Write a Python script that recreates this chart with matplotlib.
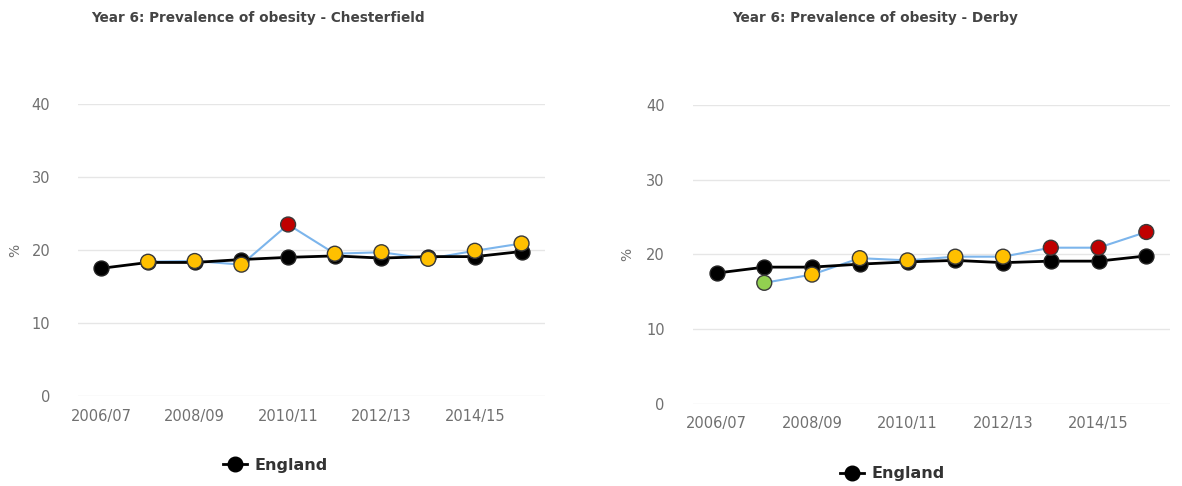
import numpy as np
import matplotlib
matplotlib.use("Agg")
import matplotlib.pyplot as plt
from matplotlib.lines import Line2D

years = ["2006/07", "2007/08", "2008/09", "2009/10", "2010/11",
         "2011/12", "2012/13", "2013/14", "2014/15", "2015/16"]
england = [17.5, 18.3, 18.3, 18.7, 19.0, 19.2, 18.9, 19.1, 19.1, 19.8]

chesterfield = [np.nan, 18.4, 18.5, 18.0, 23.5, 19.5, 19.7, 18.8, 19.9, 20.9]
chesterfield_sig = [None, "similar", "similar", "similar", "worse",
                    "similar", "similar", "similar", "similar", "similar"]

derby = [np.nan, 16.2, 17.3, 19.5, 19.2, 19.7, 19.7, 20.9, 20.9, 23.0]
derby_sig = [None, "better", "similar", "similar", "similar",
             "similar", "similar", "worse", "worse", "worse"]

sig_colors = {"similar": "#ffc000", "worse": "#c00000", "better": "#92d050"}

grey = "#707070"

fig = plt.figure(figsize=(11.82, 4.86), dpi=100)


def panel(rect, title, local, sig, title_x, ylab_x, legend_x, legend_y):
    ax = fig.add_axes(rect)
    x = np.arange(len(years))
    ax.set_xlim(-0.5, 9.5)
    ax.set_ylim(0, 40)
    ax.set_yticks([0, 10, 20, 30, 40])
    ax.grid(axis="y", color="#e6e6e6", lw=1)
    ax.set_axisbelow(True)
    for s in ax.spines.values():
        s.set_visible(False)
    ax.tick_params(length=0, colors=grey, labelsize=10.5)
    ax.tick_params(axis="y", pad=20)
    ax.tick_params(axis="x", pad=9)
    ax.set_xticks(x[::2])
    ax.set_xticklabels(years[::2])

    # local area line + significance coloured markers
    ax.plot(x, local, color="#7cb5ec", lw=1.5, zorder=2)
    ax.plot(x, england, color="black", lw=2, zorder=3)
    ax.scatter(x, england, s=115, color="black", edgecolor="#222222",
               zorder=4, clip_on=False)
    cols = [sig_colors[c] if c else "none" for c in sig]
    ax.scatter(x, local, s=115, c=cols, edgecolor="#3a3a3a", lw=1,
               zorder=5, clip_on=False)

    fig.text(title_x, 0.962, title, ha="center", va="center",
             fontsize=9.8, fontweight="bold", color="#444444")
    fig.text(ylab_x, rect[1] + rect[3] * 0.5, "%", rotation=90,
             ha="center", va="center", fontsize=10, color=grey)

    h = Line2D([0], [0], color="black", lw=2, marker="o", markersize=10.5)
    fig.legend([h], ["England"], loc="center",
               bbox_to_anchor=(legend_x, legend_y), frameon=False,
               prop={"size": 11.5, "weight": "bold"}, labelcolor="#333333",
               handlelength=1.5, handletextpad=0.5)
    return ax


panel([0.066, 0.185, 0.395, 0.601],
      "Year 6: Prevalence of obesity - Chesterfield",
      chesterfield, chesterfield_sig, 0.218, 0.013, 0.233, 0.043)
panel([0.586, 0.169, 0.404, 0.615],
      "Year 6: Prevalence of obesity - Derby",
      derby, derby_sig, 0.74, 0.531, 0.755, 0.025)

fig.savefig("out.png", dpi=100)
